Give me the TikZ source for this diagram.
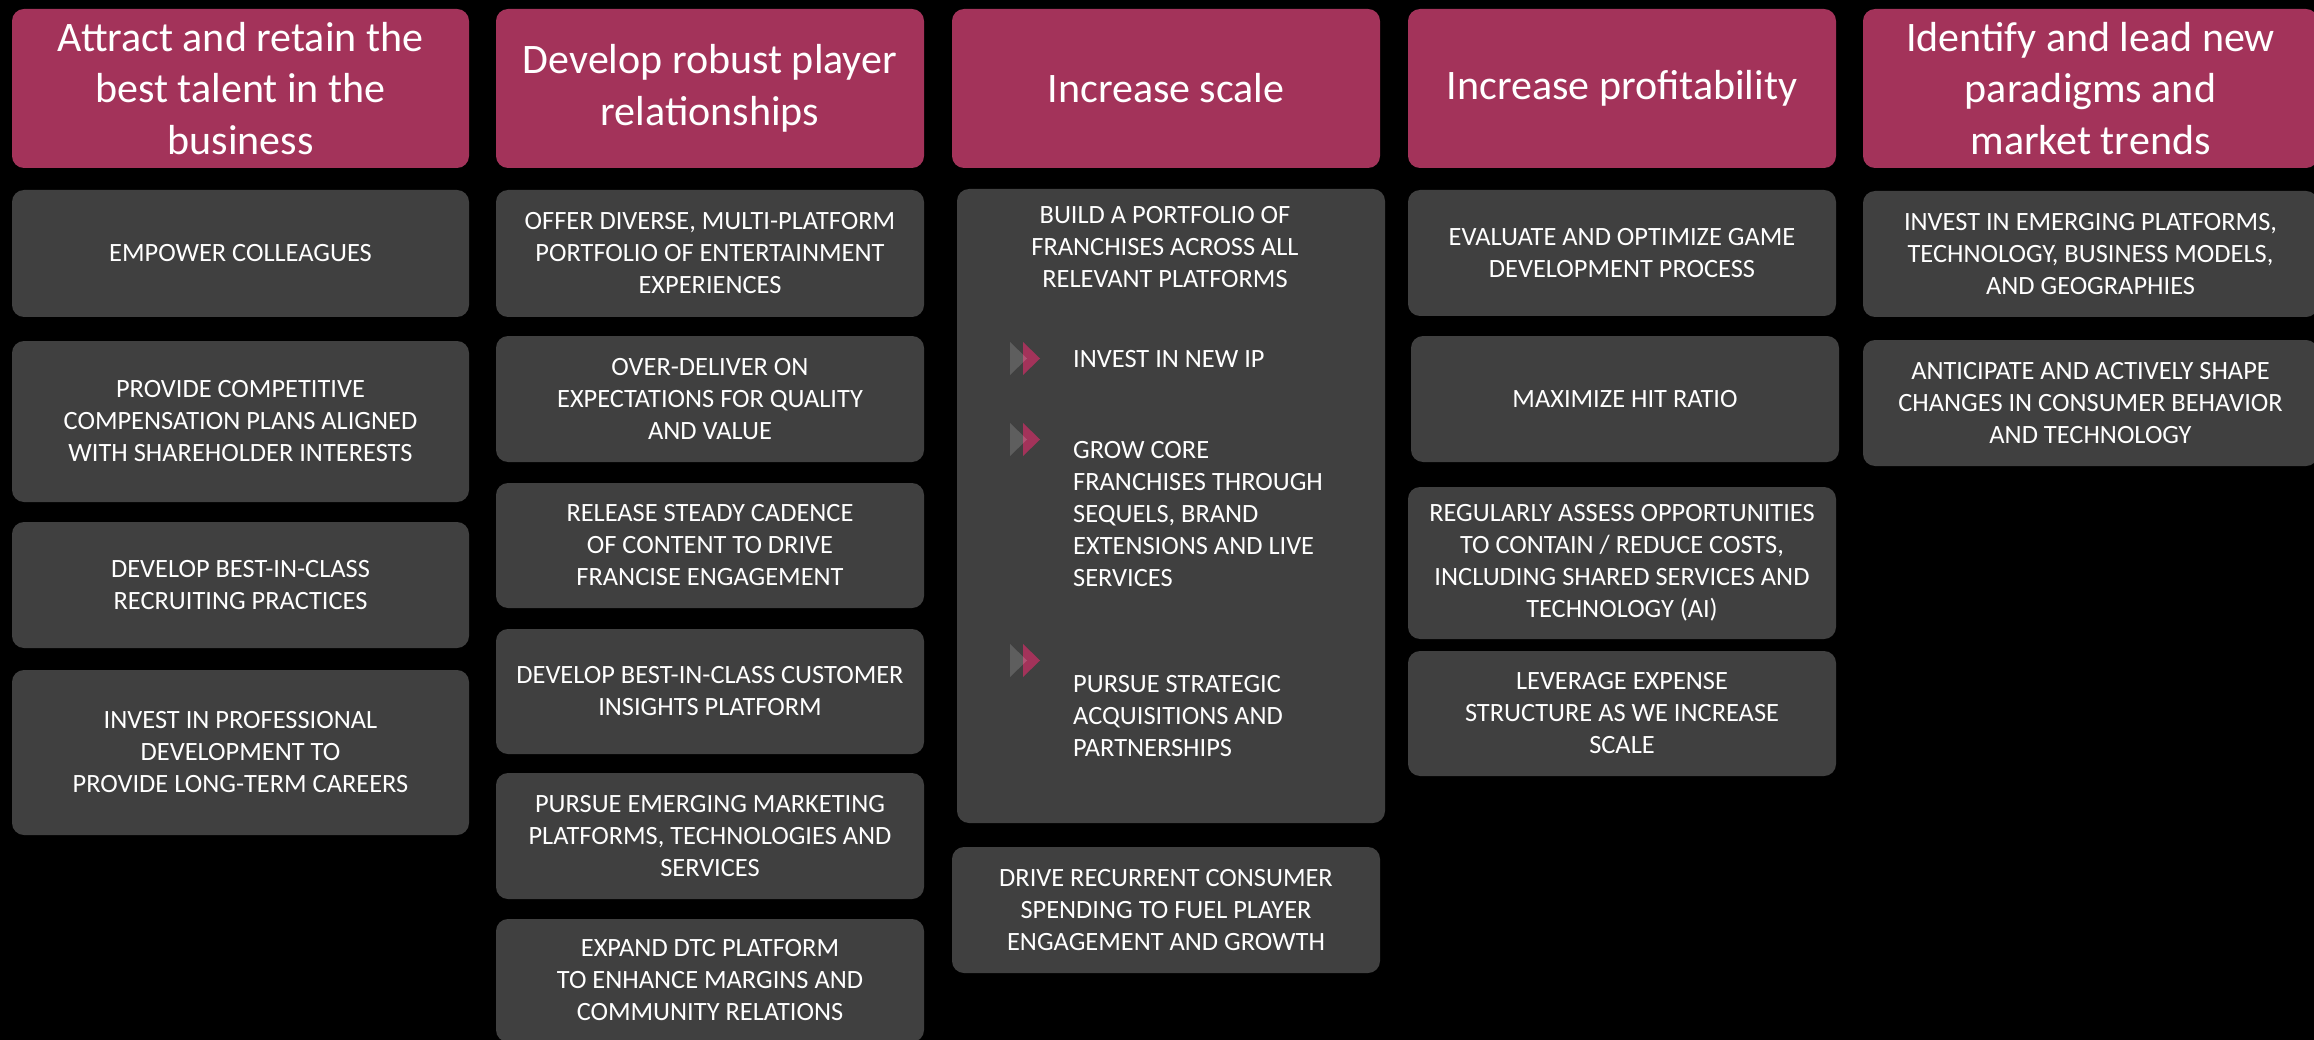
\documentclass[tikz,border=0pt]{standalone}
\usepackage{fontspec}
\setmainfont{Carlito}
\definecolor{hdr}{RGB}{163,51,90}
\definecolor{gbx}{RGB}{64,64,64}
\tikzset{
 hbox/.style={fill=hdr, rounded corners=12pt, text=white, align=center, inner sep=0pt, font=\fontsize{42}{51.6}\selectfont},
 gbox/.style={fill=gbx, rounded corners=12pt, text=white, align=center, inner sep=0pt, font=\fontsize{26.4}{32}\selectfont},
 itemtxt/.style={text=white, align=left, inner sep=0pt, anchor=north west, font=\fontsize{26.4}{32}\selectfont},
 headtxt/.style={text=white, align=center, inner sep=0pt, anchor=north, font=\fontsize{26.4}{32}\selectfont}
}
\newcommand\bx[7]{\node[#1, minimum width={(#4-#2)*1pt}, minimum height={(#5-#3)*1pt}] (#6) at ({(#2+#4)/2},{(#3+#5)/2}) {#7};}
\newcommand\chev[1]{%
  \fill[hdr] (1023,#1) -- (1040,{#1+16.5}) -- (1023,{#1+33}) -- cycle;
  \fill[white,opacity=0.16] (1010,#1) -- (1027,{#1+16.5}) -- (1010,{#1+33}) -- cycle;}
\begin{document}
\begin{tikzpicture}[x=1pt,y=-1pt]
\fill[black] (0,0) rectangle (2314,1040);
\useasboundingbox (0,0) rectangle (2314,1040);
\clip (0,0) rectangle (2314,1040);
% headers
\bx{hbox}{12}{9}{469}{168}{h1}{Attract and retain the\\best talent in the\\business}
\bx{hbox}{496}{9}{924}{168}{h2}{Develop robust player\\relationships}
\bx{hbox}{952}{9}{1380}{168}{h3}{Increase scale}
\bx{hbox}{1408}{9}{1836}{168}{h4}{Increase profitability}
\bx{hbox}{1863}{9}{2318}{168}{h5}{Identify and lead new\\paradigms and\\market trends}
% column 1
\bx{gbox}{12}{190}{469}{317}{c1a}{EMPOWER COLLEAGUES}
\bx{gbox}{12}{341}{469}{502}{c1b}{PROVIDE COMPETITIVE\\COMPENSATION PLANS ALIGNED\\WITH SHAREHOLDER INTERESTS}
\bx{gbox}{12}{522}{469}{648}{c1c}{DEVELOP BEST-IN-CLASS\\RECRUITING PRACTICES}
\bx{gbox}{12}{670}{469}{835}{c1d}{INVEST IN PROFESSIONAL\\DEVELOPMENT TO\\PROVIDE LONG-TERM CAREERS}
% column 2
\bx{gbox}{496}{190}{924}{317}{c2a}{OFFER DIVERSE, MULTI-PLATFORM\\PORTFOLIO OF ENTERTAINMENT\\EXPERIENCES}
\bx{gbox}{496}{336}{924}{462}{c2b}{OVER-DELIVER ON\\EXPECTATIONS FOR QUALITY\\AND VALUE}
\bx{gbox}{496}{483}{924}{608}{c2c}{RELEASE STEADY CADENCE\\OF CONTENT TO DRIVE\\FRANCISE ENGAGEMENT}
\bx{gbox}{496}{629}{924}{754}{c2d}{DEVELOP BEST-IN-CLASS CUSTOMER\\INSIGHTS PLATFORM}
\bx{gbox}{496}{773}{924}{899}{c2e}{PURSUE EMERGING MARKETING\\PLATFORMS, TECHNOLOGIES AND\\SERVICES}
\bx{gbox}{496}{919}{924}{1042}{c2f}{EXPAND DTC PLATFORM\\TO ENHANCE MARGINS AND\\COMMUNITY RELATIONS}
% column 3
\bx{gbox}{957}{189}{1385}{823}{c3a}{}
\node[headtxt] (c3t) at (1165,206) {BUILD A PORTFOLIO OF\\FRANCHISES ACROSS ALL\\RELEVANT PLATFORMS};
\chev{342}
\node[itemtxt] (i1) at (1073,350) {INVEST IN NEW IP};
\chev{423}
\node[itemtxt] (i2) at (1073,441) {GROW CORE\\FRANCHISES THROUGH\\SEQUELS, BRAND\\EXTENSIONS AND LIVE\\SERVICES};
\chev{644}
\node[itemtxt] (i3) at (1073,675) {PURSUE STRATEGIC\\ACQUISITIONS AND\\PARTNERSHIPS};
\bx{gbox}{952}{847}{1380}{973}{c3b}{DRIVE RECURRENT CONSUMER\\SPENDING TO FUEL PLAYER\\ENGAGEMENT AND GROWTH}
% column 4
\bx{gbox}{1408}{190}{1836}{316}{c4a}{EVALUATE AND OPTIMIZE GAME\\DEVELOPMENT PROCESS}
\bx{gbox}{1411}{336}{1839}{462}{c4b}{MAXIMIZE HIT RATIO}
\bx{gbox}{1408}{487}{1836}{639}{c4c}{REGULARLY ASSESS OPPORTUNITIES\\TO CONTAIN / REDUCE COSTS,\\INCLUDING SHARED SERVICES AND\\TECHNOLOGY (AI)}
\bx{gbox}{1408}{651}{1836}{776}{c4d}{LEVERAGE EXPENSE\\STRUCTURE AS WE INCREASE\\SCALE}
% column 5
\bx{gbox}{1863}{191}{2318}{317}{c5a}{INVEST IN EMERGING PLATFORMS,\\TECHNOLOGY, BUSINESS MODELS,\\AND GEOGRAPHIES}
\bx{gbox}{1863}{340}{2318}{466}{c5b}{ANTICIPATE AND ACTIVELY SHAPE\\CHANGES IN CONSUMER BEHAVIOR\\AND TECHNOLOGY}
\end{tikzpicture}
\end{document}
